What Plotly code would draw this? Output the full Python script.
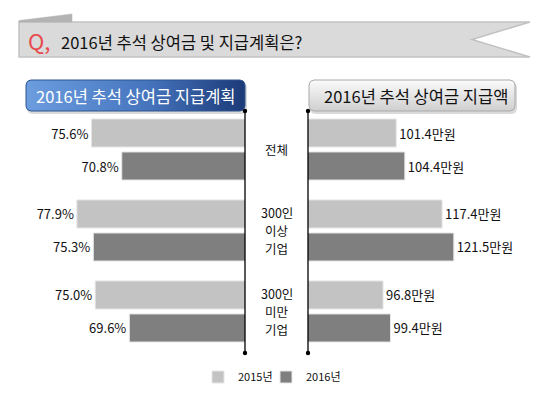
import numpy as np
import plotly.graph_objects as go

W, H = 540, 397
FONT = "Noto Sans CJK KR, Noto Sans CJK SC, sans-serif"

# ---------------- data ----------------
categories = ["전체", "300인 이상 기업", "300인 미만 기업"]
series_names = ["2015년", "2016년"]
plan_2015 = [75.6, 77.9, 75.0]      # 추석 상여금 지급계획 (%)
plan_2016 = [70.8, 75.3, 69.6]
amount_2015 = [101.4, 117.4, 96.8]  # 추석 상여금 지급액 (만원)
amount_2016 = [104.4, 121.5, 99.4]

title_q = "Q,"
title_text = "2016년 추석 상여금 및 지급계획은?"
left_header = "2016년 추석 상여금 지급계획"
right_header = "2016년 추석 상여금 지급액"

colors = ["#c3c3c3", "#7f7f7f"]
legend_ids = ["legend", "legend2"]

fig = go.Figure()

# ---------------- bars ----------------
for name, vals, col, lg in zip(series_names, [plan_2015, plan_2016], colors, legend_ids):
    fig.add_trace(go.Bar(
        y=categories, x=vals, orientation="h", name=name,
        marker=dict(color=col, line=dict(color="#e6e6e6", width=1)),
        texttemplate="%{x:.1f}%", textposition="outside",
        textfont=dict(size=13, color="#111111", family=FONT),
        cliponaxis=False, constraintext="none",
        xaxis="x", yaxis="y", legend=lg, hoverinfo="skip",
    ))
for name, vals, col in zip(series_names, [amount_2015, amount_2016], colors):
    fig.add_trace(go.Bar(
        y=categories, x=vals, orientation="h", name=name,
        marker=dict(color=col, line=dict(color="#e6e6e6", width=1)),
        texttemplate="%{x:.1f}만원", textposition="outside",
        textfont=dict(size=13, color="#111111", family=FONT),
        cliponaxis=False, constraintext="none",
        xaxis="x2", yaxis="y", showlegend=False,
        hoverinfo="skip",
    ))

# ---------------- decorations (pixel overlay axis x3/y3) ----------------
def rrect(x0, y0, x1, y1, r, n=8):
    xs, ys = [], []
    corners = [(x1 - r, y0 + r, -90, 0), (x1 - r, y1 - r, 0, 90),
               (x0 + r, y1 - r, 90, 180), (x0 + r, y0 + r, 180, 270)]
    for cx, cy, a0, a1 in corners:
        for a in np.linspace(np.radians(a0), np.radians(a1), n):
            xs.append(cx + r * np.cos(a))
            ys.append(cy + r * np.sin(a))
    xs.append(xs[0]); ys.append(ys[0])
    return xs, ys

def deco(xs, ys, grad, line_col, lw=1):
    fig.add_trace(go.Scatter(
        x=xs, y=ys, mode="lines", fill="toself",
        fillgradient=grad, line=dict(color=line_col, width=lw),
        xaxis="x3", yaxis="y3", showlegend=False, hoverinfo="skip"))

# header shadows
for x0, x1 in [(26, 245), (309, 515)]:
    sx, sy = rrect(x0 + 1, 82, x1 + 2, 114, 5)
    fig.add_trace(go.Scatter(x=sx, y=sy, mode="lines", fill="toself",
                             fillcolor="rgba(150,150,150,0.35)", line=dict(width=0),
                             xaxis="x3", yaxis="y3", showlegend=False, hoverinfo="skip"))

lx, ly = rrect(26, 80, 245, 111, 5)
deco(lx, ly, dict(type="horizontal",
                  colorscale=[[0, "#6c9ddf"], [0.55, "#4675be"], [1, "#1c3a78"]]),
     "#2d548f", 1)
rx, ry = rrect(309, 80, 515, 111, 5)
deco(rx, ry, dict(type="vertical",
                  colorscale=[[0, "#cfcfcf"], [1, "#fbfbfb"]]),
     "#a9a9a9", 1)

def P(pts):
    return "M " + " L ".join(f"{x},{y}" for x, y in pts) + " Z"

shapes = [
    # title banner
    dict(type="path", xref="x3", yref="y3", layer="below",
         path=P([(19, 22), (530, 22), (472, 39.5), (530, 57), (19, 57)]),
         fillcolor="#dadada", line=dict(color="#c2c2c2", width=1.5)),
    dict(type="path", xref="x3", yref="y3", layer="below",
         path=P([(19, 20.5), (72, 14), (72, 22), (19, 22)]),
         fillcolor="#b3b3b3", line=dict(color="#b3b3b3", width=0.5)),
    # axis lines
    dict(type="line", xref="x3", yref="y3", x0=245, x1=245, y0=111, y1=353,
         line=dict(color="#000000", width=1.3), layer="above"),
    dict(type="line", xref="x3", yref="y3", x0=308, x1=308, y0=111, y1=353,
         line=dict(color="#000000", width=1.3), layer="above"),
]
for cx in (245, 308):
    for cy in (111, 353):
        shapes.append(dict(type="circle", xref="x3", yref="y3",
                           x0=cx - 2.2, x1=cx + 2.2, y0=cy - 2.2, y1=cy + 2.2,
                           fillcolor="#000000", line=dict(width=0), layer="above"))

annotations = [
    dict(text=title_q, xref="x3", yref="y3", x=26, y=40, xanchor="left",
         yanchor="middle", showarrow=False,
         font=dict(size=22, color="#e8494c", family=FONT)),
    dict(text=title_text, xref="x3", yref="y3", x=59, y=41.5, xanchor="left",
         yanchor="middle", showarrow=False,
         font=dict(size=16.5, color="#111111", family=FONT)),
    dict(text=left_header, xref="x3", yref="y3", x=135.5, y=95.5,
         xanchor="center", yanchor="middle", showarrow=False,
         font=dict(size=16.5, color="#ffffff", family=FONT)),
    dict(text=right_header, xref="x3", yref="y3", x=416, y=95.5,
         xanchor="center", yanchor="middle", showarrow=False,
         font=dict(size=16.5, color="#111111", family=FONT)),
]
# category labels between the two panels, one annotation per line
LINE_STEP = 18
for c in categories:
    parts = c.split(" ")
    n = len(parts)
    for i, part in enumerate(parts):
        annotations.append(dict(
            text=part, xref="x3", yref="y", x=276.5, y=c,
            yshift=((n - 1) / 2 - i) * LINE_STEP, borderpad=0,
            xanchor="center", yanchor="middle", showarrow=False,
            font=dict(size=12.5, color="#111111", family=FONT)))

legend_style = dict(orientation="h", xanchor="left", y=1 - 377 / H,
                    yanchor="middle", font=dict(size=11, color="#111111", family=FONT),
                    bgcolor="rgba(0,0,0,0)", itemclick=False, itemdoubleclick=False)

fig.update_layout(
    width=W, height=H, margin=dict(l=0, r=0, t=0, b=0),
    paper_bgcolor="#ffffff", plot_bgcolor="rgba(0,0,0,0)",
    barmode="group", bargap=0.185, bargroupgap=0.15,
    font=dict(family=FONT, color="#111111"),
    xaxis=dict(domain=[20 / W, 245 / W], range=[86.9, 51.3], visible=False,
               fixedrange=True),
    xaxis2=dict(domain=[308 / W, 520 / W], range=[70.6, 144.6], visible=False,
                anchor="y", fixedrange=True),
    yaxis=dict(domain=[0, 1], range=[3.056, -1.846], visible=False,
               type="category", categoryorder="array", categoryarray=categories,
               fixedrange=True),
    xaxis3=dict(domain=[0, 1], range=[0, W], visible=False, anchor="y3",
                fixedrange=True),
    yaxis3=dict(domain=[0, 1], range=[H, 0], visible=False, anchor="x3",
                fixedrange=True),
    shapes=shapes, annotations=annotations,
    showlegend=True,
    legend=dict(x=198 / W, **legend_style),
    legend2=dict(x=266 / W, **legend_style),
)

fig.write_html("out.html",
               config={"displayModeBar": False},
               post_script="document.body.style.margin='0';"
                           "document.body.style.overflow='hidden';")
